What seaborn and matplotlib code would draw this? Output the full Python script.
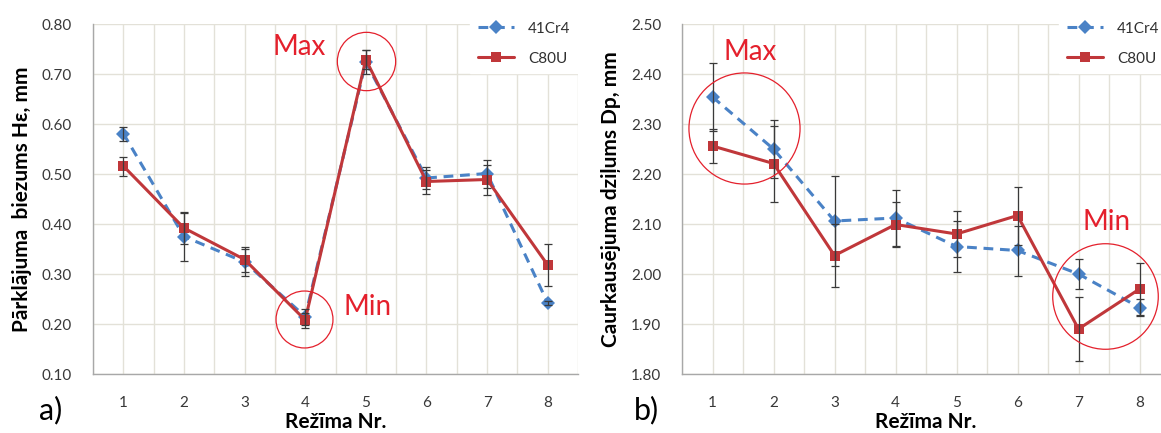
import numpy as np
import pandas as pd
import matplotlib
matplotlib.use("Agg")
import matplotlib.pyplot as plt
import seaborn as sns

# ---------------- data ----------------
modes = [1, 2, 3, 4, 5, 6, 7, 8]
series_names = ["41Cr4", "C80U"]

# (a) coating thickness, mm
a_41cr4 = [0.581, 0.375, 0.324, 0.215, 0.724, 0.492, 0.501, 0.242]
a_41cr4_err = [0.014, 0.048, 0.027, 0.016, 0.024, 0.022, 0.028, 0.004]
a_c80u = [0.516, 0.392, 0.329, 0.208, 0.729, 0.485, 0.489, 0.318]
a_c80u_err = [0.019, 0.032, 0.025, 0.015, 0.019, 0.024, 0.030, 0.042]

# (b) penetration depth, mm
b_41cr4 = [2.354, 2.250, 2.106, 2.112, 2.055, 2.047, 2.000, 1.933]
b_41cr4_err = [0.068, 0.058, 0.090, 0.055, 0.051, 0.050, 0.030, 0.017]
b_c80u = [2.256, 2.221, 2.037, 2.099, 2.080, 2.117, 1.890, 1.970]
b_c80u_err = [0.034, 0.076, 0.063, 0.045, 0.046, 0.058, 0.064, 0.052]

a_yticks = [0.10, 0.20, 0.30, 0.40, 0.50, 0.60, 0.70, 0.80]
b_yticks = [1.80, 1.90, 2.00, 2.10, 2.20, 2.30, 2.40, 2.50]

# ---------------- style ----------------
sns.set_theme(style="white")
plt.rcParams["font.family"] = ["Lato", "DejaVu Sans"]

BLUE = "#4a82c6"
RED = "#c0373a"
ANNOT = "#e4202c"
GRID = "#e3e1d8"
TICKC = "#383838"

fig = plt.figure(figsize=(11.61, 4.33), dpi=100)
ax_a = fig.add_axes([93 / 1161, 1 - 374 / 433, 485 / 1161, 350 / 433])
ax_b = fig.add_axes([682 / 1161, 1 - 374 / 433, 488 / 1161, 350 / 433])


def draw_panel(ax, s1, e1, s2, e2, yticks, ylabel):
    df = pd.DataFrame({
        "mode": modes * 2,
        "value": list(s1) + list(s2),
        "series": [series_names[0]] * len(modes) + [series_names[1]] * len(modes),
    })
    sns.lineplot(
        data=df, x="mode", y="value", hue="series", style="series",
        hue_order=series_names, style_order=series_names,
        palette={series_names[0]: BLUE, series_names[1]: RED},
        dashes={series_names[0]: (3.2, 2.2), series_names[1]: ""},
        markers={series_names[0]: "D", series_names[1]: "s"},
        markersize=7, markeredgewidth=0, linewidth=2.2,
        ax=ax, zorder=3,
    )
    ax.errorbar(modes, s1, yerr=e1, fmt="none", ecolor="#3a3a3a",
                elinewidth=0.9, capsize=2.8, capthick=0.9, zorder=4)
    ax.errorbar(modes, s2, yerr=e2, fmt="none", ecolor="#3a3a3a",
                elinewidth=0.9, capsize=2.8, capthick=0.9, zorder=4)

    ax.set_xlim(0.5, 8.5)
    ax.set_ylim(yticks[0], yticks[-1])
    ax.set_yticks(yticks)
    ax.set_yticklabels([f"{v:.2f}" for v in yticks])
    ax.set_xticks(modes)
    ax.set_xticklabels([str(m) for m in modes])
    ax.set_xticks([m + 0.5 for m in modes[:-1]] + [0.5, 8.5], minor=True)
    ax.grid(True, which="major", color=GRID, linewidth=1.0, zorder=0)
    ax.grid(True, which="minor", axis="x", color=GRID, linewidth=1.0, zorder=0)
    ax.set_axisbelow(True)
    for s in ["top", "right"]:
        ax.spines[s].set_visible(False)
    for s in ["left", "bottom"]:
        ax.spines[s].set_color("#a8a8a8")
        ax.spines[s].set_linewidth(1.0)
    ax.tick_params(axis="y", which="major", direction="out", length=4,
                   color="#a8a8a8", labelsize=11, labelcolor=TICKC, pad=11)
    ax.tick_params(axis="x", which="major", direction="in", length=4,
                   color="#a8a8a8", labelsize=11, labelcolor=TICKC, pad=16)
    ax.tick_params(axis="x", which="minor", length=0)
    ax.set_xlabel("Režīma Nr.", fontsize=15, fontweight="bold", color="black", labelpad=1)
    ax.set_ylabel(ylabel, fontsize=15, fontweight="bold", color="black", labelpad=7)

    leg = ax.legend(loc="upper left", frameon=True, fontsize=11,
                    handlelength=2.4, handletextpad=0.9, labelspacing=1.05,
                    borderpad=0.5, borderaxespad=0)
    leg.get_frame().set_facecolor("white")
    leg.get_frame().set_edgecolor("white")
    leg.get_frame().set_alpha(1)
    leg.get_frame().set_boxstyle("square", pad=0)
    for t in leg.get_texts():
        t.set_color("#303030")
    return leg


leg_a = draw_panel(ax_a, a_41cr4, a_41cr4_err, a_c80u, a_c80u_err, a_yticks,
                   "Pārklājuma  biezums Hε, mm")
leg_a.set_bbox_to_anchor((470 / 1161, 1 - 14 / 433), transform=fig.transFigure)
leg_b = draw_panel(ax_b, b_41cr4, b_41cr4_err, b_c80u, b_c80u_err, b_yticks,
                   "Caurkausējuma dziļums Dp, mm")
leg_b.set_bbox_to_anchor((1059 / 1161, 1 - 14 / 433), transform=fig.transFigure)

# ---------------- annotations ----------------
ring = dict(marker="o", linestyle="none", markerfacecolor="none",
            markeredgecolor=ANNOT, markeredgewidth=0.9, zorder=5, clip_on=False)
ax_a.plot([5], [0.726], markersize=42, **ring)
ax_a.plot([3.98], [0.211], markersize=41, **ring)
ax_b.plot([1.52], [2.292], markersize=80, **ring)
ax_b.plot([7.43], [1.957], markersize=76, **ring)

fig.text(299 / 1161, 1 - 47 / 433, "Max", color=ANNOT, fontsize=20, ha="center", va="center")
fig.text(368 / 1161, 1 - 307 / 433, "Min", color=ANNOT, fontsize=20, ha="center", va="center")
fig.text(750 / 1161, 1 - 52 / 433, "Max", color=ANNOT, fontsize=20, ha="center", va="center")
fig.text(1107 / 1161, 1 - 222 / 433, "Min", color=ANNOT, fontsize=20, ha="center", va="center")

fig.text(51 / 1161, 1 - 410 / 433, "a)", color="black", fontsize=22, ha="center", va="center")
fig.text(646 / 1161, 1 - 410 / 433, "b)", color="black", fontsize=22, ha="center", va="center")

fig.savefig("out.png", dpi=100, facecolor="white")
